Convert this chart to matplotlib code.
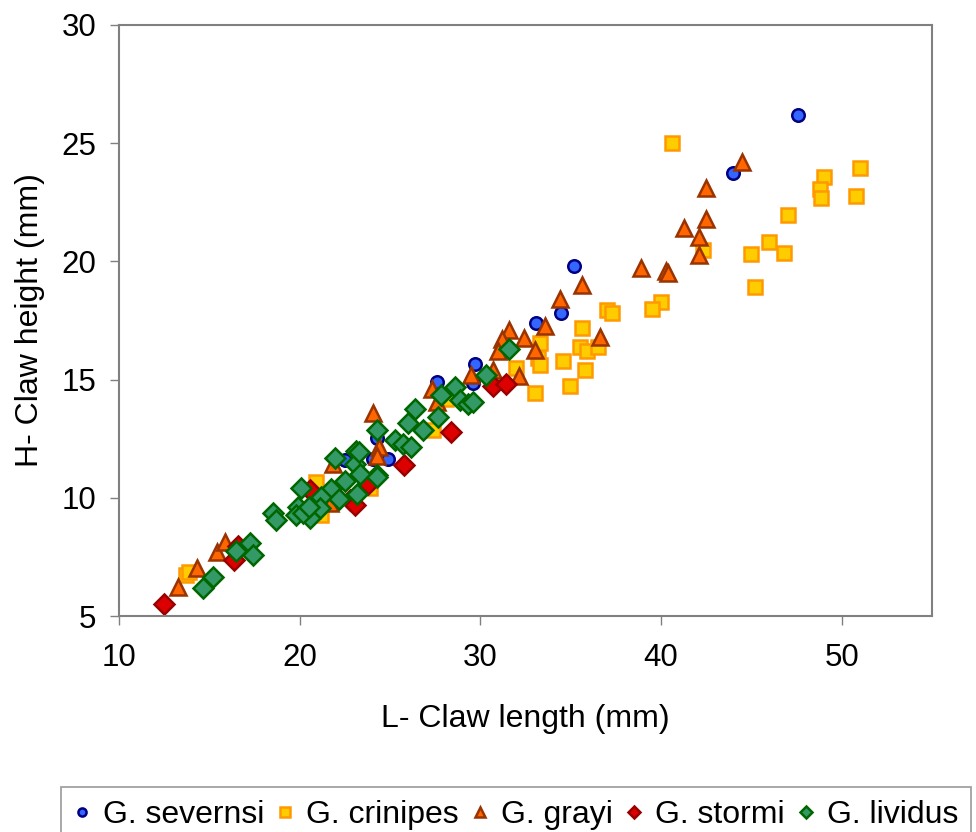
import matplotlib
matplotlib.use('Agg')
import matplotlib.pyplot as plt

plt.rcParams['font.family'] = ['Liberation Sans', 'DejaVu Sans']

# G. severnsi
sev_x = [47.6, 44.0, 35.2, 34.45, 33.1, 29.7, 29.6, 27.6, 24.3, 24.05, 24.9, 22.5]
sev_y = [26.2, 23.76, 19.8, 17.8, 17.4, 15.64, 14.85, 14.9, 12.53, 11.66, 11.66, 11.59]

# G. crinipes
cri_x = [40.6, 51.0, 49.0, 48.8, 48.85, 50.8, 47.05, 46.0, 45.0, 46.8, 42.3, 45.2,
         40.0, 39.5, 37.0, 37.3, 35.6, 33.3, 33.2, 33.3, 35.5, 35.9, 36.5, 34.6,
         35.8, 34.95, 33.0, 32.0, 28.1, 27.4, 23.9, 20.9, 21.2, 13.7, 13.9]
cri_y = [25.0, 23.95, 23.55, 23.06, 22.7, 22.75, 21.96, 20.8, 20.3, 20.35, 20.5, 18.9,
         18.3, 18.0, 17.96, 17.8, 17.2, 16.56, 15.9, 15.6, 16.4, 16.2, 16.4, 15.8,
         15.4, 14.73, 14.45, 15.47, 14.2, 12.86, 10.43, 10.67, 9.27, 6.73, 6.87]

# G. grayi
gra_x = [44.5, 42.5, 42.5, 41.3, 42.1, 42.1, 38.9, 40.3, 40.4, 35.6, 34.4, 33.6,
         31.6, 32.4, 31.2, 31.0, 33.0, 36.6, 32.15, 30.7, 29.5, 27.3, 27.6, 24.05,
         24.4, 24.3, 21.85, 21.7, 15.4, 15.84, 14.3, 13.26]
gra_y = [24.2, 23.1, 21.8, 21.4, 21.05, 20.25, 19.7, 19.6, 19.5, 19.0, 18.4, 17.26,
         17.1, 16.75, 16.7, 16.2, 16.26, 16.8, 15.16, 15.4, 15.2, 14.6, 14.05, 13.6,
         12.15, 11.76, 11.45, 9.76, 7.72, 8.15, 7.04, 6.24]

# G. stormi
sto_x = [12.5, 16.35, 16.6, 20.55, 22.76, 23.04, 23.8, 25.76, 28.4, 30.7, 31.4]
sto_y = [5.49, 7.39, 7.95, 10.32, 9.9, 9.69, 10.6, 11.38, 12.8, 14.75, 14.8]

# G. lividus
liv_x = [31.6, 30.3, 28.6, 27.8, 28.9, 29.3, 29.6, 26.4, 27.66, 26.0, 26.85, 24.27,
         25.25, 25.7, 26.17, 24.3, 21.95, 23.1, 23.04, 23.35, 24.27, 22.5, 23.2, 21.75,
         22.2, 21.2, 20.1, 21.1, 20.55, 19.9, 19.8, 20.2, 20.5, 18.5, 18.7, 17.24,
         17.4, 16.46, 14.66, 15.2, 23.3]
liv_y = [16.3, 15.2, 14.7, 14.35, 14.15, 13.98, 14.05, 13.77, 13.4, 13.16, 12.86, 12.88,
         12.46, 12.29, 12.15, 10.95, 11.7, 11.98, 11.42, 11.0, 10.86, 10.7, 10.18, 10.39,
         9.97, 10.04, 10.43, 9.55, 9.13, 9.6, 9.27, 9.34, 9.6, 9.37, 9.05, 8.1,
         7.58, 7.76, 6.17, 6.66, 11.94]

fig = plt.figure(figsize=(9.76, 8.32), dpi=100)
ax = fig.add_axes([119/976, 1-616/832, (932-119)/976, (616-25)/832])

ax.plot(sev_x, sev_y, 'o', ms=9, mfc='#3366FF', mec='#000080', mew=1.8, label='G. severnsi')
ax.plot(cri_x, cri_y, 's', ms=10.5, mfc='#FFCC00', mec='#FF9900', mew=1.8, label='G. crinipes')
ax.plot(gra_x, gra_y, '^', ms=11, mfc='#FF6600', mec='#993300', mew=1.8, label='G. grayi')
ax.plot(sto_x, sto_y, 'D', ms=10, mfc='#DD0000', mec='#990000', mew=1.8, label='G. stormi')
ax.plot(liv_x, liv_y, 'D', ms=10, mfc='#339966', mec='#006600', mew=1.8, label='G. lividus')

ax.set_xlim(10, 55)
ax.set_ylim(5, 30)
ax.set_xticks([10, 20, 30, 40, 50])
ax.set_yticks([5, 10, 15, 20, 25, 30])
for s in ax.spines.values():
    s.set_color('#808080')
    s.set_linewidth(1.5)
ax.tick_params(direction='out', length=6.5, width=1, color='#808080', labelsize=22.5)
ax.tick_params(axis='x', pad=13)
ax.tick_params(axis='y', pad=10)
ax.set_xlabel('L- Claw length (mm)', fontsize=23, labelpad=22)
ax.set_ylabel('H- Claw height (mm)', fontsize=23, labelpad=12)

leg = fig.legend(loc='upper left', bbox_to_anchor=(61/976, 1-787/832), ncol=5,
                 fontsize=23, frameon=True, fancybox=False, edgecolor='#808080',
                 markerscale=0.65, handlelength=0.5, handletextpad=0.4,
                 columnspacing=0.42, borderpad=0.4, borderaxespad=0)
leg.get_frame().set_linewidth(1.2)

fig.savefig('out.png', dpi=100)
